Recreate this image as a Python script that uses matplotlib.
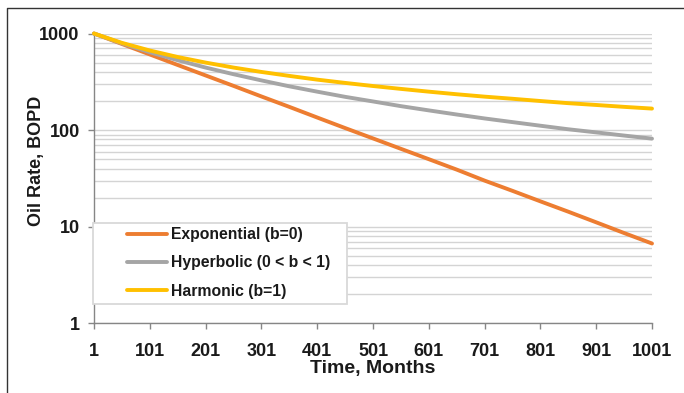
import numpy as np
import matplotlib
matplotlib.use('Agg')
import matplotlib.pyplot as plt
from matplotlib.lines import Line2D
from matplotlib.patches import Rectangle
from matplotlib.ticker import FixedLocator, LogLocator, NullFormatter

plt.rcParams['font.family'] = ['Liberation Sans', 'DejaVu Sans']

# months, read every 50
months = [1, 51, 101, 151, 201, 251, 301, 351, 401, 451, 501,
          551, 601, 651, 701, 751, 801, 851, 901, 951, 1001]

exponential = [1000, 779, 607, 472, 368, 287, 223, 174, 135, 105, 82,
               64, 50, 39, 30, 23.5, 18.3, 14.3, 11.1, 8.6, 6.7]
hyperbolic = [1000, 790, 640, 529, 444, 379, 327, 284, 250, 221, 198,
              177, 160, 145, 132, 121, 111, 102, 94.7, 87.8, 81.6]
harmonic = [1000, 800, 667, 571, 500, 444, 400, 364, 333, 308, 286,
            267, 250, 235, 222, 211, 200, 190, 182, 174, 167]

series_names = ['Exponential (b=0)', 'Hyperbolic (0 < b < 1)', 'Harmonic (b=1)']
series_colors = ['#ED7D31', '#A5A5A5', '#FFC000']

x_ticks = [1, 101, 201, 301, 401, 501, 601, 701, 801, 901, 1001]
y_ticks = [1, 10, 100, 1000]

W, H = 684, 393
fig = plt.figure(figsize=(W / 100, H / 100), dpi=100)
ax = fig.add_axes([94 / W, 1 - 323.3 / H, (652 - 94) / W, (323.3 - 33.5) / H])

for vals, name, col in zip([exponential, hyperbolic, harmonic], series_names, series_colors):
    ax.plot(months, vals, color=col, lw=2.8, label=name, solid_capstyle='round',
            zorder=3, clip_on=False)

ax.set_yscale('log')
ax.set_ylim(1, 1000)
ax.set_xlim(1, 1001)

ax.xaxis.set_major_locator(FixedLocator(x_ticks))
ax.set_xticklabels([str(t) for t in x_ticks])
ax.yaxis.set_major_locator(FixedLocator(y_ticks))
ax.set_yticklabels([str(t) for t in y_ticks])
ax.yaxis.set_minor_locator(LogLocator(base=10, subs=np.arange(2, 10)))
ax.yaxis.set_minor_formatter(NullFormatter())

ax.grid(True, which='both', axis='y', color='#d4d4d4', lw=1.0, zorder=0)
ax.set_axisbelow(True)

for s in ['top', 'right']:
    ax.spines[s].set_visible(False)
for s in ['left', 'bottom']:
    ax.spines[s].set_color('#868686')
    ax.spines[s].set_linewidth(1.0)

ax.tick_params(axis='both', which='major', labelsize=13, colors='#868686',
               labelcolor='#1a1a1a', length=4.3, width=1)
ax.tick_params(axis='y', which='minor', length=0)
ax.tick_params(axis='y', pad=6)
ax.tick_params(axis='x', pad=10)
for lbl in ax.get_xticklabels() + ax.get_yticklabels():
    lbl.set_fontweight('bold')

ax.set_xlabel('Time, Months', fontsize=14, fontweight='bold', labelpad=0, color='#1a1a1a')
# y label sits above the axes centre in the original
fig.text(36 / W, 1 - 161 / H, 'Oil Rate, BOPD', rotation=90, fontsize=13,
         fontweight='bold', color='#1a1a1a', ha='center', va='center')

# legend box drawn separately, entries placed inside it
box = Rectangle((93 / W, 1 - 304 / H), (347 - 93) / W, (304 - 222.7) / H,
                transform=fig.transFigure, facecolor='white',
                edgecolor='#d9d9d9', lw=1.3, zorder=4, clip_on=False)
ax.add_patch(box)
leg = ax.legend(loc='upper left', bbox_to_anchor=(127 / W, 1 - 227 / H),
                bbox_transform=fig.transFigure,
                prop={'weight': 'bold', 'size': 11.3}, frameon=False,
                handlelength=2.55, handletextpad=0.25,
                borderpad=0, labelspacing=0.85, borderaxespad=0)
leg.set_zorder(5)
for t in leg.get_texts():
    t.set_color('#1a1a1a')

# figure frame (left and top edges)
fig.add_artist(Line2D([7 / W, 7 / W, 1], [0, 1 - 8 / H, 1 - 8 / H],
                      transform=fig.transFigure, color='#333333', lw=1.0))

fig.savefig('out.png', dpi=100)
plt.close()
